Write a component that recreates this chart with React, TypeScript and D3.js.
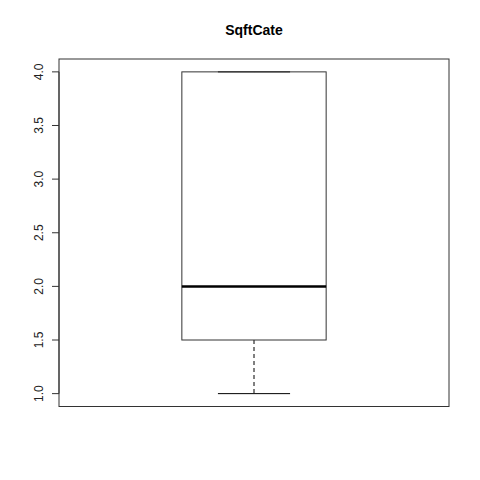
import * as d3 from "d3";
import { useEffect, useRef } from "react";

const title = "SqftCate";
const categories = ["SqftCate"];
// five-number summary: min, q1, median, q3, max
const fiveNum = [1.0, 1.5, 2.0, 4.0, 4.0];
const yTicks = [1.0, 1.5, 2.0, 2.5, 3.0, 3.5, 4.0];

const App = () => {
  const ref = useRef<SVGSVGElement | null>(null);

  useEffect(() => {
    if (!ref.current) return;
    const svg = d3.select(ref.current);
    svg.selectAll("*").remove();

    const left = 59;
    const right = 449;
    const top = 59;
    const bottom = 406.5;
    const font = "'Liberation Sans', Arial, sans-serif";

    const [lo, hi] = d3.extent(fiveNum) as [number, number];
    const pad = (hi - lo) * 0.04;
    const y = d3.scaleLinear().domain([lo - pad, hi + pad]).range([bottom, top]);
    const x = d3.scaleLinear().domain([0.5, categories.length + 0.5]).range([left, right]);

    svg
      .append("text")
      .attr("x", (left + right) / 2)
      .attr("y", 35)
      .attr("text-anchor", "middle")
      .attr("font-family", font)
      .attr("font-weight", "bold")
      .attr("font-size", 14)
      .text(title);

    // plot frame
    svg
      .append("rect")
      .attr("x", left)
      .attr("y", top)
      .attr("width", right - left)
      .attr("height", bottom - top)
      .attr("fill", "none")
      .attr("stroke", "#333")
      .attr("stroke-width", 1);

    // y axis
    const axis = svg.append("g").attr("transform", `translate(${left},0)`);
    axis
      .append("line")
      .attr("x1", 0)
      .attr("x2", 0)
      .attr("y1", y(yTicks[0]))
      .attr("y2", y(yTicks[yTicks.length - 1]))
      .attr("stroke", "#333");
    const tick = axis
      .selectAll("g.tick")
      .data(yTicks)
      .enter()
      .append("g")
      .attr("transform", (d) => `translate(0,${y(d)})`);
    tick.append("line").attr("x1", -7).attr("x2", 0).attr("stroke", "#333");
    tick
      .append("text")
      .attr("transform", "translate(-16,0) rotate(-90)")
      .attr("text-anchor", "middle")
      .attr("font-family", font)
      .attr("font-size", 12)
      .attr("fill", "#222")
      .text((d) => d.toFixed(1));

    const [mn, q1, med, q3, mx] = fiveNum;
    const cx = x(1);
    const half = x(1.185) - cx;
    const capHalf = half / 2;
    const g = svg.append("g");

    // whiskers
    g.append("line")
      .attr("x1", cx)
      .attr("x2", cx)
      .attr("y1", y(q1))
      .attr("y2", y(mn))
      .attr("stroke", "#000")
      .attr("stroke-dasharray", "4,3");
    g.append("line")
      .attr("x1", cx)
      .attr("x2", cx)
      .attr("y1", y(q3))
      .attr("y2", y(mx))
      .attr("stroke", "#000")
      .attr("stroke-dasharray", "4,3");
    [mn, mx].forEach((v) =>
      g
        .append("line")
        .attr("x1", cx - capHalf)
        .attr("x2", cx + capHalf)
        .attr("y1", y(v))
        .attr("y2", y(v))
        .attr("stroke", "#000")
    );

    // box
    g.append("rect")
      .attr("x", cx - half)
      .attr("y", y(q3))
      .attr("width", half * 2)
      .attr("height", y(q1) - y(q3))
      .attr("fill", "none")
      .attr("stroke", "#333");

    // median
    g.append("line")
      .attr("x1", cx - half)
      .attr("x2", cx + half)
      .attr("y1", y(med))
      .attr("y2", y(med))
      .attr("stroke", "#000")
      .attr("stroke-width", 2.5);
  }, []);

  return (
    <svg
      ref={ref}
      width={480}
      height={480}
      style={{ position: "absolute", left: 0, top: 0, background: "#fff" }}
    ></svg>
  );
};

export default App;
